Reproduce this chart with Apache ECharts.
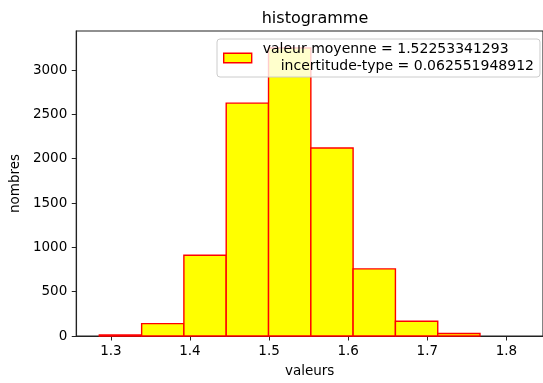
<!DOCTYPE html>
<html>
<head>
<meta charset="utf-8">
<script src="https://cdn.jsdelivr.net/npm/echarts@6/dist/echarts.min.js"></script>
<style>
html,body{margin:0;padding:0;background:#fff;}
#chart{width:543px;height:383px;}
</style>
</head>
<body>
<div id="chart"></div>
<script>
// Histogram data
const binEdges = [1.2854, 1.3389, 1.3923, 1.4458, 1.4993, 1.5528, 1.6062, 1.6597, 1.7132, 1.7666];
const counts = [12, 140, 910, 2626, 3249, 2121, 757, 166, 28];
const xTicks = [1.3, 1.4, 1.5, 1.6, 1.7, 1.8];
const yTicks = [0, 500, 1000, 1500, 2000, 2500, 3000];
const titleText = 'histogramme';
const xName = 'valeurs';
const yName = 'nombres';
const legendLine1 = 'valeur moyenne = 1.52253341293';
const legendLine2 = 'incertitude-type = 0.062551948912';
const seriesName = 'hist';

const data = counts.map((c, i) => [binEdges[i], binEdges[i + 1], c]);

const font = 'DejaVu Sans';
const chart = echarts.init(document.getElementById('chart'), null, {renderer: 'canvas'});
chart.setOption({
  animation: false,
  backgroundColor: '#fff',
  title: {
    text: titleText,
    left: 310,
    top: 6,
    textAlign: 'center',
    textStyle: {fontFamily: font, fontSize: 16, fontWeight: 'normal', color: '#000'}
  },
  grid: {
    left: 74, top: 31, width: 472, height: 307,
    show: true, borderColor: '#222', borderWidth: 1.1, backgroundColor: 'transparent'
  },
  xAxis: {
    type: 'value',
    min: 1.25625, max: 1.84625,
    name: xName, nameLocation: 'middle', nameGap: 28,
    nameTextStyle: {fontFamily: font, fontSize: 13.5, color: '#000'},
    splitLine: {show: false},
    axisLine: {show: true, lineStyle: {color: '#222', width: 1.1}},
    axisTick: {show: true, length: 4.5, lineStyle: {color: '#222'}, customValues: xTicks},
    axisLabel: {fontFamily: font, fontSize: 13.5, color: '#000', margin: 8,
      customValues: xTicks, formatter: v => v.toFixed(1)}
  },
  yAxis: {
    type: 'value',
    min: 0, max: 3440,
    name: yName, nameLocation: 'middle', nameGap: 46, nameRotate: 90,
    nameTextStyle: {fontFamily: font, fontSize: 13.5, color: '#000'},
    splitLine: {show: false},
    axisLine: {show: true, lineStyle: {color: '#222', width: 1.1}},
    axisTick: {show: true, length: 4.5, lineStyle: {color: '#222'}, customValues: yTicks},
    axisLabel: {fontFamily: font, fontSize: 13.5, color: '#000', margin: 9,
      customValues: yTicks, formatter: v => String(v)}
  },
  legend: {
    left: 217, top: 39,
    padding: [3.5, 6, 3.5, 6],
    backgroundColor: 'rgba(255,255,255,0.8)',
    borderColor: '#cccccc', borderWidth: 1, borderRadius: 3,
    icon: 'rect', itemWidth: 28, itemHeight: 9.5,
    data: [{name: seriesName, itemStyle: {color: '#ffff00', borderColor: '#ff0000', borderWidth: 1.4}}],
    formatter: () => '{a|' + legendLine1 + '}\n{b|' + legendLine2 + '}',
    textStyle: {
      fontFamily: font, fontSize: 14, color: '#000',
      rich: {
        a: {fontFamily: font, fontSize: 14, color: '#000', lineHeight: 17, padding: [0, 0, 0, 6]},
        b: {fontFamily: font, fontSize: 14, color: '#000', lineHeight: 17, padding: [0, 0, 0, 24]}
      }
    }
  },
  series: [{
    type: 'custom',
    name: seriesName,
    z: 3,
    itemStyle: {color: '#ffff00', borderColor: '#ff0000', borderWidth: 1.4},
    encode: {x: [0, 1], y: 2},
    data: data,
    renderItem: function (params, api) {
      const p0 = api.coord([api.value(0), api.value(2)]);
      const p1 = api.coord([api.value(1), 0]);
      return {
        type: 'rect',
        shape: {x: p0[0], y: p0[1], width: p1[0] - p0[0], height: p1[1] - p0[1]},
        style: {fill: '#ffff00', stroke: '#ff0000', lineWidth: 1.4}
      };
    }
  }]
});
</script>
</body>
</html>
